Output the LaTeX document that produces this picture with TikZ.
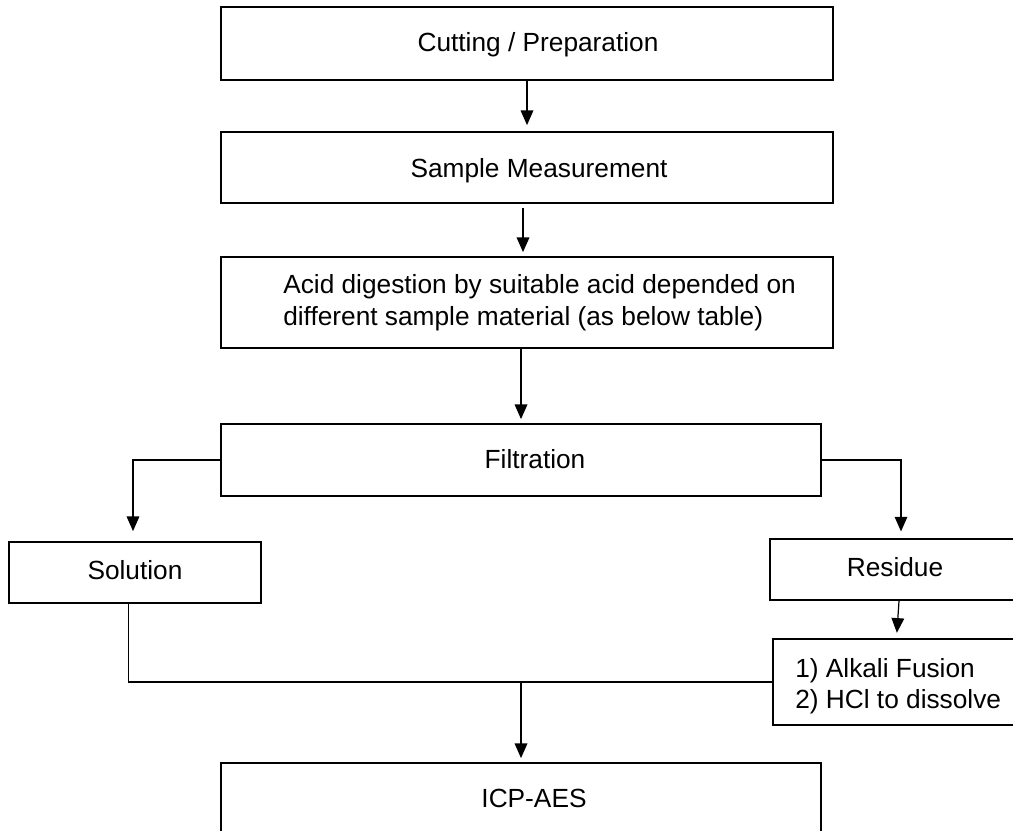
\documentclass[tikz,border=0pt]{standalone}
\usepackage{fontspec}
\setmainfont{Liberation Sans}
\usetikzlibrary{arrows.meta,calc}
\begin{document}
\begin{tikzpicture}[x=0.75pt,y=-0.75pt,
  box/.style={draw=black,line width=1.35pt,rectangle,inner sep=0pt,fill=none},
  lbl/.style={inner sep=0pt,font=\fontsize{19.7pt}{24pt}\selectfont,text=black},
  conn/.style={draw=black,line width=0.9pt},
  arr/.style={conn,-{Triangle[length=11pt,width=9.5pt]}}]
\useasboundingbox (0,0) rectangle (1013,831);
\clip (0,0) rectangle (1013,831);
% boxes
\node[box,minimum width=612*0.75pt,minimum height=73*0.75pt] (b1) at (527,43.5) {};
\node[box,minimum width=612*0.75pt,minimum height=71*0.75pt] (b2) at (527,167.5) {};
\node[box,minimum width=612*0.75pt,minimum height=91*0.75pt] (b3) at (527,302.5) {};
\node[box,minimum width=600*0.75pt,minimum height=72*0.75pt] (bf) at (521,460) {};
\node[box,minimum width=252*0.75pt,minimum height=61*0.75pt] (bs) at (135,572.5) {};
\node[box,minimum width=250*0.75pt,minimum height=61*0.75pt] (br) at (895,569.5) {};
\node[box,minimum width=247*0.75pt,minimum height=86*0.75pt] (ba) at (896.5,682) {};
\node[box,minimum width=600*0.75pt,minimum height=94*0.75pt] (bi) at (521,810) {};
% texts
\node[lbl,anchor=base] (t1) at (538,52) {Cutting / Preparation};
\node[lbl,anchor=base] (t2) at (539,177) {Sample Measurement};
\node[lbl,anchor=base west] (t3a) at (283,293) {Acid digestion by suitable acid depended on};
\node[lbl,anchor=base west] (t3b) at (283,325) {different sample material (as below table)};
\node[lbl,anchor=base] (tf) at (535,468) {Filtration};
\node[lbl,anchor=base] (ts) at (135,579) {Solution};
\node[lbl,anchor=base] (tr) at (895,576) {Residue};
\node[lbl,anchor=base west] (ta1) at (795,677) {1) Alkali Fusion};
\node[lbl,anchor=base west] (ta2) at (795,708) {2) HCl to dissolve};
\node[lbl,anchor=base] (ti) at (534,807) {ICP-AES};
% connectors
\draw[arr,shorten >=4.5pt] (b1.south) -- (b2.north);
\draw[arr,shorten <=3pt,shorten >=3pt] ([xshift=-3pt]b2.south) -- ([xshift=-3pt]b3.north);
\draw[arr,shorten >=3pt] (b3.south -| bf.north) -- (bf.north);
\draw[arr,shorten >=7.5pt] (bf.west) -| ([xshift=-1.5pt]bs.north);
\draw[arr,shorten >=5pt] (bf.east) -| ([xshift=4.5pt]br.north);
\draw[arr,shorten >=4pt] ([xshift=3pt]br.south) -- (ba.north);
\coordinate (j) at (bi.north |- ba.west);
\draw[conn] ([xshift=-5pt]bs.south) |- (ba.west);
\draw[arr,shorten >=3pt] (j) -- (bi.north);
\end{tikzpicture}
\end{document}
